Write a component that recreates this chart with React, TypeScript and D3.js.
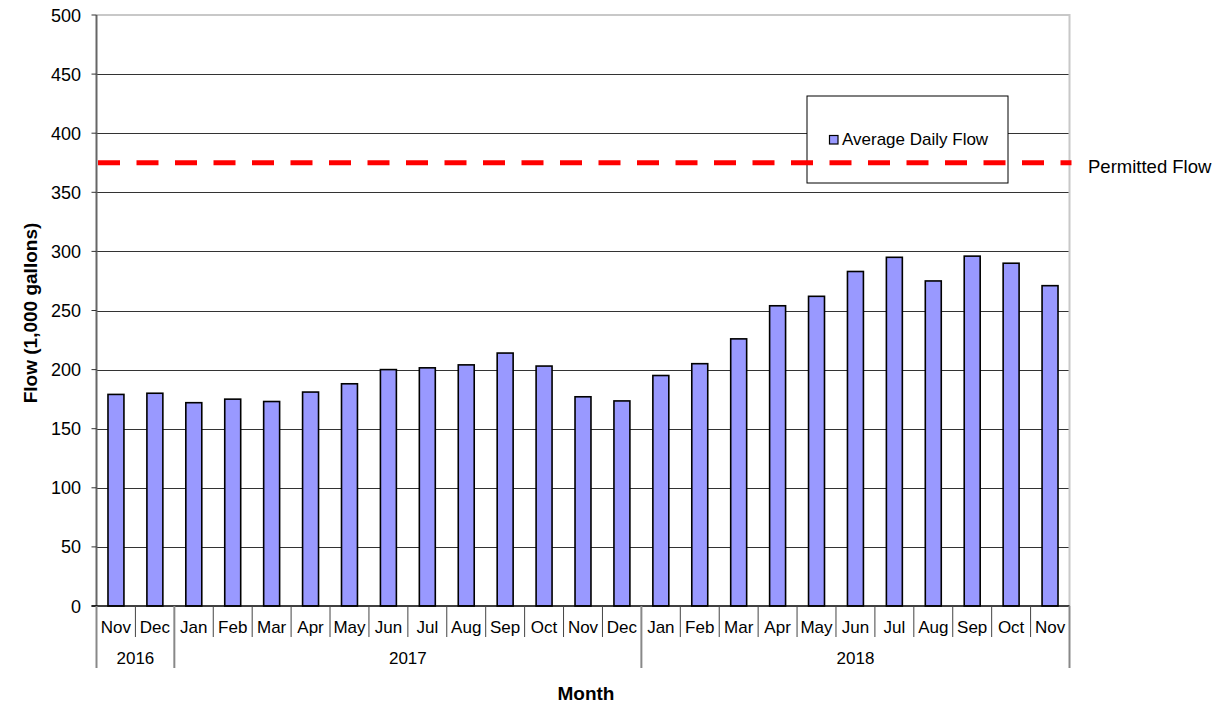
import React from "react";
import * as d3 from "d3";

const months = ["Nov","Dec","Jan","Feb","Mar","Apr","May","Jun","Jul","Aug","Sep","Oct","Nov","Dec","Jan","Feb","Mar","Apr","May","Jun","Jul","Aug","Sep","Oct","Nov"];
const flows = [179,180,172,175,173,181,188,200,201.5,204,214,203,177,173.5,195,205,226,254,262,283,295,275,296,290,271];
const years = [
  { label: "2016", start: 0, end: 2 },
  { label: "2017", start: 2, end: 14 },
  { label: "2018", start: 14, end: 25 },
];
const yTicks = [0,50,100,150,200,250,300,350,400,450,500];
const permittedFlow = 375;
const legendLabel = "Average Daily Flow";
const permittedLabel = "Permitted Flow";

const FONT = "'Liberation Sans', Arial, sans-serif";

export default function App() {
  const W = 1229, H = 705;
  const left = 96.5, right = 1069.5, top = 15, bottom = 606;
  const x = d3.scaleBand<number>().domain(d3.range(months.length)).range([left, right]).padding(0);
  const step = x.step();
  const barW = step * 0.41;
  const y = d3.scaleLinear().domain([0, 500]).range([bottom, top]);
  const yearBounds = new Set<number>();
  years.forEach(yr => { yearBounds.add(yr.start); yearBounds.add(yr.end); });

  const dashY = y(permittedFlow);

  return (
    <svg width={W} height={H} style={{ position: "absolute", left: 0, top: 0, background: "#fff" }} fontFamily={FONT}>
      {/* gridlines */}
      {yTicks.filter(t => t > 0 && t < 500).map(t => (
        <line key={"g" + t} x1={left} x2={right} y1={Math.round(y(t)) + 0.5} y2={Math.round(y(t)) + 0.5} stroke="#333" strokeWidth={1} />
      ))}
      {/* top border */}
      <line x1={left} x2={right} y1={y(500)} y2={y(500)} stroke="#c8c8c8" strokeWidth={2} />
      {/* right border */}
      <line x1={right} x2={right} y1={y(500) - 1} y2={bottom} stroke="#c8c8c8" strokeWidth={2} />
      {/* bars */}
      {flows.map((v, i) => {
        const cx = (x(i) as number) + step / 2;
        return (
          <rect key={"b" + i} x={cx - barW / 2} y={y(v)} width={barW} height={bottom - y(v)}
            fill="#9999ff" stroke="#000" strokeWidth={1.6} />
        );
      })}
      {/* left axis */}
      <line x1={left} x2={left} y1={top} y2={bottom} stroke="#666" strokeWidth={2} />
      {yTicks.map(t => (
        <g key={"t" + t}>
          <line x1={left - 5} x2={left} y1={y(t)} y2={y(t)} stroke="#333" strokeWidth={1} />
          <text x={81} y={y(t) + 6.5} textAnchor="end" fontSize={18} fill="#000">{t}</text>
        </g>
      ))}
      {/* bottom axis */}
      <line x1={left - 5} x2={right} y1={bottom} y2={bottom} stroke="#000" strokeWidth={1.5} />
      {/* category separators */}
      {d3.range(months.length + 1).map(i => {
        const xx = left + i * step;
        const isYear = yearBounds.has(i);
        return (
          <line key={"s" + i} x1={xx} x2={xx} y1={bottom} y2={isYear ? 668 : 637}
            stroke={isYear ? "#888" : "#444"} strokeWidth={isYear ? 2 : 1} />
        );
      })}
      {months.map((m, i) => (
        <text key={"m" + i} x={(x(i) as number) + step / 2} y={633} textAnchor="middle" fontSize={17} fill="#000">{m}</text>
      ))}
      {years.map(yr => (
        <text key={yr.label} x={left + ((yr.start + yr.end) / 2) * step} y={664} textAnchor="middle" fontSize={17} fill="#000">{yr.label}</text>
      ))}
      {/* legend */}
      <rect x={807} y={96} width={201} height={87} fill="#fff" stroke="#000" strokeWidth={1} />
      <rect x={829.5} y={135.5} width={8.5} height={8.5} fill="#9999ff" stroke="#000" strokeWidth={1.2} />
      <text x={842} y={145} fontSize={17} fill="#000">{legendLabel}</text>
      {/* permitted flow */}
      <line x1={98} x2={right + 2} y1={dashY} y2={dashY} stroke="#ff0000" strokeWidth={5} strokeDasharray="22 16.5" />
      <text x={1088} y={173} fontSize={18.5} fill="#000">{permittedLabel}</text>
      {/* axis titles */}
      <text x={586} y={700} textAnchor="middle" fontSize={19} fontWeight="bold" fill="#000">Month</text>
      <text transform={`translate(36.5,313) rotate(-90)`} textAnchor="middle" fontSize={19} fontWeight="bold" fill="#000">Flow (1,000 gallons)</text>
    </svg>
  );
}
